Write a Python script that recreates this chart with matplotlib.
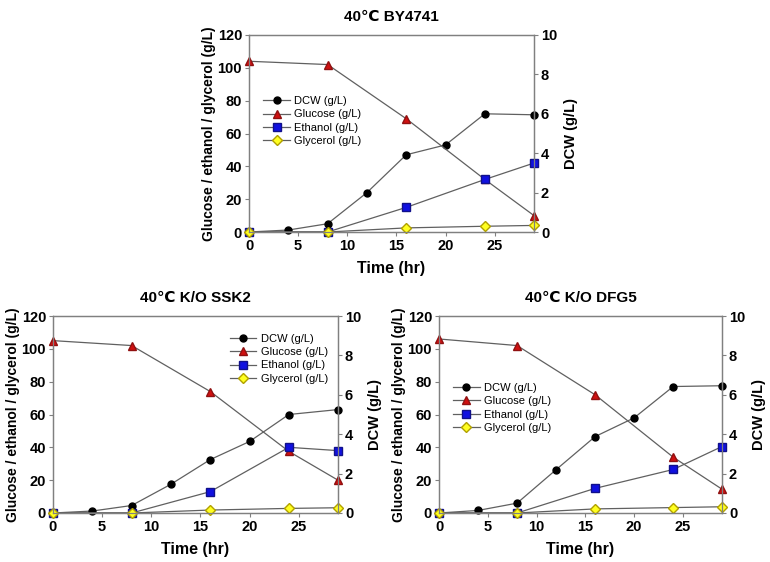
import matplotlib
matplotlib.use('Agg')
import matplotlib.pyplot as plt

plt.rcParams['font.family'] = ['Liberation Sans', 'DejaVu Sans', 'Noto Sans CJK SC']

# sampling times (hr)
t_dcw = [0, 4, 8, 12, 16, 20, 24, 29]
t_met = [0, 8, 16, 24, 29]

titles = ['40\u2103 BY4741', '40\u2103 K/O SSK2', '40\u2103 K/O DFG5']

# DCW (g/L), right axis
dcw_by = [0, 0.1, 0.42, 2.0, 3.92, 4.42, 6.0, 5.95]
dcw_ssk2 = [0, 0.1, 0.38, 1.46, 2.71, 3.63, 5.0, 5.25]
dcw_dfg5 = [0, 0.13, 0.5, 2.2, 3.88, 4.83, 6.42, 6.46]

# Glucose / ethanol / glycerol (g/L), left axis
glc_by = [104, 102, 69, 32, 10]
glc_ssk2 = [105, 102, 74, 37.5, 20]
glc_dfg5 = [106, 102, 72, 34, 14.5]

eth_by = [0, 0, 15, 32, 42]
eth_ssk2 = [0, 0, 13, 40, 38]
eth_dfg5 = [0, 0, 15, 26.5, 40.5]

gly_by = [0, 0, 2.5, 3.5, 4.0]
gly_ssk2 = [0, 0, 1.8, 2.8, 3.2]
gly_dfg5 = [0, 0, 2.5, 3.3, 3.8]

panels = [
    (titles[0], dcw_by, glc_by, eth_by, gly_by, [249, 35, 534, 232], (0.05, 0.69)),
    (titles[1], dcw_ssk2, glc_ssk2, eth_ssk2, gly_ssk2, [53, 316, 338, 513], (0.62, 0.91)),
    (titles[2], dcw_dfg5, glc_dfg5, eth_dfg5, gly_dfg5, [439, 316, 722, 513], (0.05, 0.66)),
]

W, H = 770, 562
fig = plt.figure(figsize=(W / 100, H / 100), dpi=100)

spine_c = '#808080'
line_c = '#606060'

for title, dcw, glc, eth, gly, box, leg_pos in panels:
    x0, y0, x1, y1 = box
    ax = fig.add_axes([x0 / W, 1 - y1 / H, (x1 - x0) / W, (y1 - y0) / H])
    ax2 = ax.twinx()
    ax.set_zorder(ax2.get_zorder() + 1)
    ax.patch.set_visible(False)

    h1, = ax2.plot(t_dcw, dcw, '-o', color=line_c, lw=0.9, ms=5,
                   mfc='black', mec='black', label='DCW (g/L)', clip_on=False)
    h2, = ax.plot(t_met, glc, '-^', color=line_c, lw=0.9, ms=5.5,
                  mfc='#d01010', mec='#901010', label='Glucose (g/L)', clip_on=False)
    h3, = ax.plot(t_met, eth, '-s', color=line_c, lw=0.9, ms=5.5,
                  mfc='#1010e0', mec='#10108a', label='Ethanol (g/L)', clip_on=False)
    h4, = ax.plot(t_met, gly, '-D', color=line_c, lw=0.9, ms=5,
                  mfc='#ffff20', mec='#b0a000', label='Glycerol (g/L)', clip_on=False)

    ax.set_xlim(0, 29)
    ax.set_ylim(0, 120)
    ax2.set_ylim(0, 10)
    ax.set_xticks([0, 5, 10, 15, 20, 25])
    ax.set_yticks([0, 20, 40, 60, 80, 100, 120])
    ax2.set_yticks([0, 2, 4, 6, 8, 10])

    for a in (ax, ax2):
        for s in a.spines.values():
            s.set_color(spine_c)
            s.set_linewidth(0.9)
        a.tick_params(length=3, width=0.8, color=spine_c, labelsize=10.5, pad=2)
        for lab in a.get_xticklabels() + a.get_yticklabels():
            lab.set_fontweight('bold')

    ax.set_title(title, fontsize=11, fontweight='bold', pad=10)
    ax.set_xlabel('Time (hr)', fontsize=11.5, fontweight='bold', labelpad=6)
    ax.set_ylabel('Glucose / ethanol / glycerol (g/L)', fontsize=10,
                  fontweight='bold', labelpad=1)
    ax2.set_ylabel('DCW (g/L)', fontsize=10.5, fontweight='bold', labelpad=5)

    ax.legend(handles=[h1, h2, h3, h4], loc='upper left', bbox_to_anchor=leg_pos,
              frameon=False, fontsize=8, handlelength=2.4, handletextpad=0.4,
              labelspacing=0.3, borderpad=0, borderaxespad=0)

fig.savefig('out.png', dpi=100)
